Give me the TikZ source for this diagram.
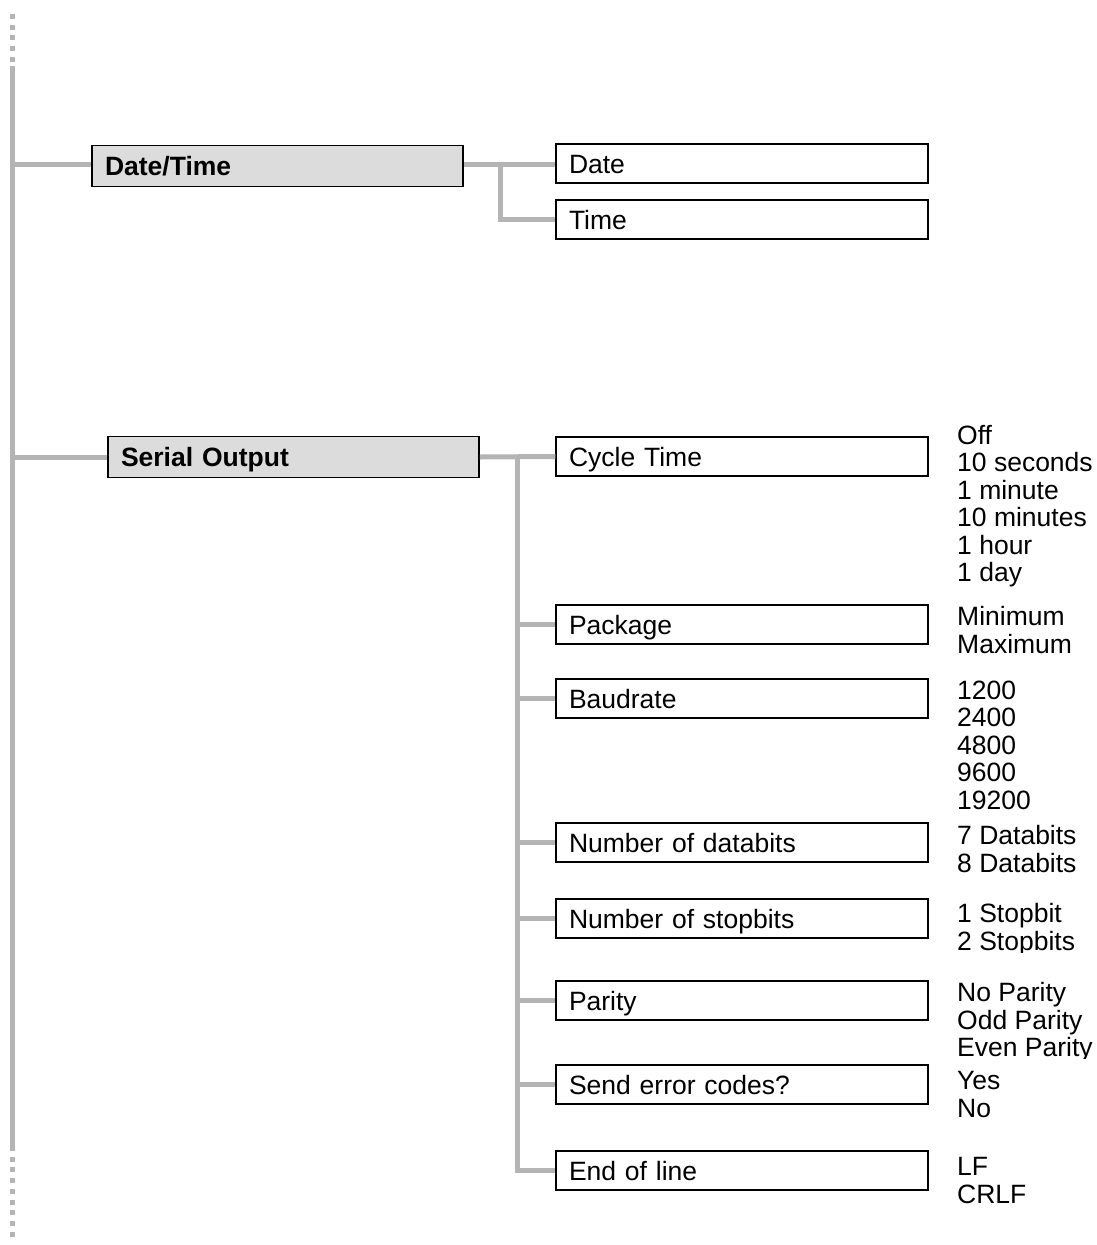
\documentclass[tikz,border=0pt]{standalone}
\usepackage{fontspec}
\setmainfont{Liberation Sans}
\begin{document}
\begin{tikzpicture}[x=1pt,y=-1pt,
  conn/.style={draw=linegray,line width=5pt},
  dots/.style={draw=linegray,line width=5pt,dash pattern=on 5pt off 5.7pt},
  topbox/.style={draw=black,line width=1.8pt,fill=boxgray,minimum width=371pt,minimum height=41pt,
    text width=345pt,align=left,inner xsep=13pt,text height=19pt,text depth=0pt,
    font=\fontsize{26.5}{27.5}\selectfont\bfseries},
  subbox/.style={draw=black,line width=1.3pt,fill=white,minimum width=372pt,minimum height=39pt,
    text width=346pt,align=left,inner xsep=13pt,text height=19pt,text depth=0pt,
    font=\fontsize{26.5}{27.5}\selectfont},
  opts/.style={anchor=north west,inner sep=0pt,align=left,font=\fontsize{26.5}{27.5}\selectfont}]
\definecolor{linegray}{RGB}{180,180,180}
\definecolor{boxgray}{RGB}{220,220,220}
\useasboundingbox (0,0) rectangle (1097,1245);

% spine
\coordinate (spTop) at (12.5,66);
\coordinate (spBot) at (12.5,1148);
\coordinate (dotTop) at (12.5,14);
\coordinate (dotBot) at (12.5,1241);
\draw[conn] (spTop) -- (spBot);
\draw[dots] (dotTop) -- (spTop);
\draw[dots] ([yshift=2pt]spBot) -- (dotBot);

% Date/Time branch
\node[topbox] (dt) at (277.5,166) {Date/Time};
\node[subbox] (date) at (742,163.5) {Date};
\node[subbox] (time) at (742,219.5) {Time};
\draw[conn] (dt.west |- 0,164.5) -- (spTop |- 0,164.5);
\coordinate (dtj) at (500,164.5);
\draw[conn] (dt.east |- dtj) -- (date.west |- dtj);
\draw[conn] (dtj) |- (time.west);

% Serial Output branch
\node[topbox] (so) at (293.5,457) {Serial Output};
\draw[conn] (so.west) -- (so.west -| spTop);
\node[subbox] (cyc) at (742,456.5) {Cycle Time};
\node[subbox] (pkg) at (742,624.5) {Package};
\node[subbox] (baud) at (742,698.5) {Baudrate};
\node[subbox] (data) at (742,842.5) {Number of databits};
\node[subbox] (stop) at (742,918.5) {Number of stopbits};
\node[subbox] (par) at (742,1000.5) {Parity};
\node[subbox] (err) at (742,1084.5) {Send error codes?};
\node[subbox] (eol) at (742,1170.5) {End of line};

\coordinate (soj) at (517.5,457);
\draw[conn] (so.east) -- (cyc.west);
\draw[conn] (soj) |- (eol.west);
\foreach \b in {pkg,baud,data,stop,par,err}
  \draw[conn] (\b.west) -- (\b.west -| soj);

% options
\node[opts] (oCyc) at (957,425) {Off\\10 seconds\\1 minute\\10 minutes\\1 hour\\1 day};
\node[opts] (oPkg) at (957,606.5) {Minimum\\Maximum};
\node[opts] (oBaud) at (957,680.5) {1200\\2400\\4800\\9600\\19200};
\node[opts] (oData) at (957,825.5) {7 Databits\\8 Databits};
\begin{scope}
  \clip (940,890) rectangle (1097,952);
  \node[opts] (oStop) at (957,903.5) {1 Stopbit\\2 Stopbits};
\end{scope}
\begin{scope}
  \clip (940,970) rectangle (1097,1058);
  \node[opts] (oPar) at (957,982.5) {No Parity\\Odd Parity\\Even Parity};
\end{scope}
\node[opts] (oErr) at (957,1071.5) {Yes\\No};
\node[opts] (oEol) at (957,1157.5) {LF\\CRLF};
\end{tikzpicture}
\end{document}
